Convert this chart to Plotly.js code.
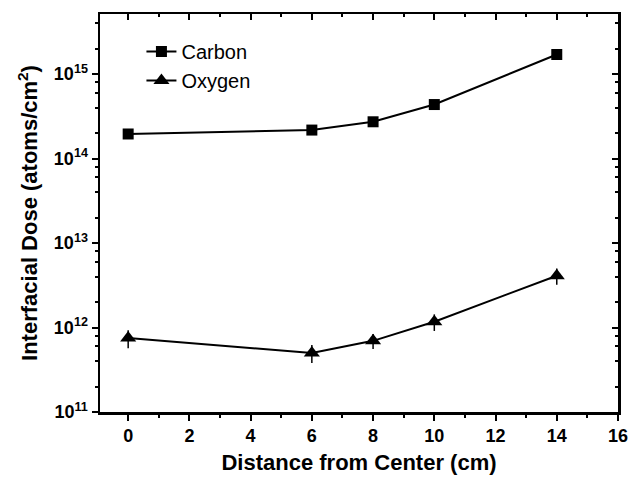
<!DOCTYPE html>
<html>
<head>
<meta charset="utf-8">
<script src="https://cdn.plot.ly/plotly-3.0.1.min.js"></script>
<style>html,body{margin:0;padding:0;background:#fff;}#chart{width:632px;height:480px;}</style>
</head>
<body>
<div id="chart"></div>
<script>
const distance = [0, 6, 8, 10, 14];
const carbonDose = [1.95e14, 2.17e14, 2.72e14, 4.35e14, 1.7e15];
const oxygenDose = [7.5e11, 5.0e11, 6.95e11, 1.17e12, 4.1e12];
const oxygenErr = [1.8e11, 1.2e11, 1.4e11, 2.6e11, 9.0e11];
const yTickVals = [1e11, 1e12, 1e13, 1e14, 1e15];
const yTickText = ['10<sup>11</sup>', '10<sup>12</sup>', '10<sup>13</sup>', '10<sup>14</sup>', '10<sup>15</sup>'];
const yMinorVals = [];
for (let e = 11; e <= 15; e++) { for (const m of [2, 4, 6, 8]) yMinorVals.push(m * Math.pow(10, e)); }
const xTickVals = [0, 2, 4, 6, 8, 10, 12, 14, 16];

const font = 'Liberation Sans, Arial, sans-serif';
const traces = [
  {x: distance, y: carbonDose, name: 'Carbon', mode: 'lines+markers', type: 'scatter',
   line: {color: '#000', width: 2}, marker: {symbol: 'square', size: 11, color: '#000'}},
  {x: distance, y: oxygenDose, name: 'Oxygen', mode: 'lines+markers', type: 'scatter',
   line: {color: '#000', width: 2}, marker: {symbol: 'triangle-up', size: 14, color: '#000'},
   error_y: {type: 'data', array: oxygenErr, visible: true, color: '#000', thickness: 1.5, width: 0}},
  {x: [], y: [], xaxis: 'x2', yaxis: 'y2', showlegend: false, hoverinfo: 'skip', type: 'scatter'}
];
const xr = [-0.92, 16];
const yr = [11, 15.71];
const layout = {
  width: 632, height: 480,
  margin: {l: 100, r: 14, t: 14, b: 68},
  paper_bgcolor: '#fff', plot_bgcolor: '#fff',
  font: {family: font, color: '#000'},
  showlegend: true,
  legend: {x: 0.08, y: 0.955, xanchor: 'left', yanchor: 'top', bgcolor: 'rgba(0,0,0,0)',
           font: {family: font, size: 20, color: '#000'}},
  xaxis: {range: xr, showgrid: false, zeroline: false, showline: true, linecolor: '#000', linewidth: 2.5,
          ticks: 'outside', ticklen: 6, tickwidth: 2, tickcolor: '#000', tickmode: 'array', tickvals: xTickVals,
          minor: {dtick: 1, ticks: 'outside', ticklen: 3, tickwidth: 2, tickcolor: '#000'},
          tickfont: {family: font, size: 18, color: '#000', weight: 'bold'},
          title: {text: '<b>Distance from Center (cm)</b>', font: {family: font, size: 22, color: '#000'}, standoff: 10}},
  yaxis: {type: 'log', range: yr, showgrid: false, zeroline: false, showline: true, linecolor: '#000', linewidth: 2.5,
          ticks: 'outside', ticklen: 6, tickwidth: 2, tickcolor: '#000', tickmode: 'array', tickvals: yTickVals, ticktext: yTickText,
          minor: {tickmode: 'array', tickvals: yMinorVals, ticks: 'outside', ticklen: 3, tickwidth: 2, tickcolor: '#000'},
          tickfont: {family: font, size: 18, color: '#000', weight: 'bold'},
          title: {text: '<b>Interfacial Dose (atoms/cm<sup>2</sup>)</b>', font: {family: font, size: 22, color: '#000'}, standoff: 10}},
  xaxis2: {overlaying: 'x', side: 'top', anchor: 'y2', range: xr, showgrid: false, zeroline: false, showline: true,
           linecolor: '#000', linewidth: 2.5, ticks: 'inside', ticklen: 6, tickwidth: 2, tickcolor: '#000',
           tickmode: 'array', tickvals: xTickVals, showticklabels: false,
           minor: {dtick: 1, ticks: 'inside', ticklen: 3, tickwidth: 2, tickcolor: '#000'}},
  yaxis2: {overlaying: 'y', side: 'right', anchor: 'x2', type: 'log', range: yr, showgrid: false, zeroline: false, showline: true,
           linecolor: '#000', linewidth: 2.5, ticks: 'inside', ticklen: 6, tickwidth: 2, tickcolor: '#000',
           tickmode: 'array', tickvals: yTickVals, showticklabels: false,
           minor: {tickmode: 'array', tickvals: yMinorVals, ticks: 'inside', ticklen: 3, tickwidth: 2, tickcolor: '#000'}}
};
Plotly.newPlot('chart', traces, layout, {staticPlot: true, displayModeBar: false});
</script>
</body>
</html>
